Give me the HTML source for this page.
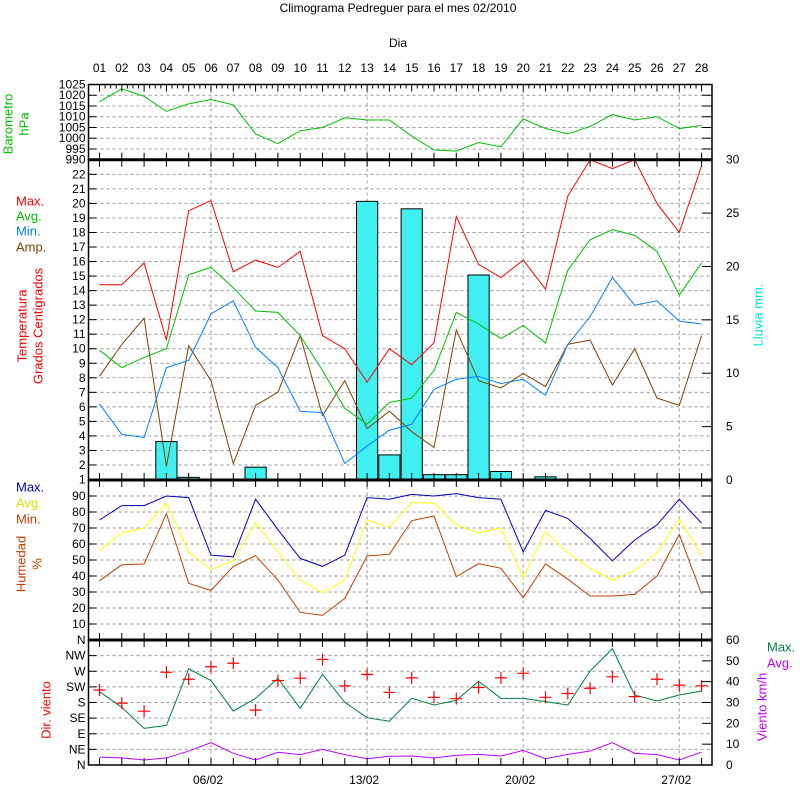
<!DOCTYPE html>
<html><head><meta charset="utf-8"><style>
html,body{margin:0;padding:0;background:#fff;}
svg{display:block;font-family:"Liberation Sans",sans-serif;font-size:12px;}
</style></head><body>
<svg id="c" width="800" height="800" viewBox="0 0 800 800"></svg>
<script>
const days=['01','02','03','04','05','06','07','08','09','10','11','12','13','14','15','16','17','18','19','20','21','22','23','24','25','26','27','28'];
const baro=[1017,1023,1019.5,1012.5,1016,1018,1015.5,1002,997.5,1003.5,1005,1009.5,1008.5,1008.5,1001,994.5,994,998,996,1009,1004.5,1002,1005.5,1011,1008.5,1010,1004.5,1006];
const tMax=[14.4,14.4,15.9,10.6,19.5,20.2,15.3,16.1,15.6,16.7,10.9,10,7.7,10,8.9,10.4,19.1,15.8,14.9,16.1,14.1,20.5,23,22.4,23,20,18,22.6];
const tAvg=[9.9,8.7,9.4,10,15.1,15.6,14.2,12.6,12.5,10.9,8.5,5.9,4.8,6.3,6.6,8.5,12.5,11.7,10.7,11.6,10.4,15.4,17.5,18.2,17.8,16.7,13.7,15.9];
const tMin=[6.2,4.1,3.9,8.7,9.2,12.4,13.3,10.1,8.7,5.7,5.6,2.1,3.3,4.4,4.8,7.2,7.9,8.1,7.6,7.9,6.8,10.3,12.2,14.9,13,13.3,11.9,11.7];
const tAmp=[8.1,10.3,12.1,1.9,10.2,7.8,2.1,6.1,7,10.9,5.4,7.8,4.5,5.7,4.3,3.2,11.3,7.8,7.3,8.3,7.4,10.3,10.6,7.5,10,6.6,6.1,10.9];
const rain=[0,0,0,3.6,0.25,0,0,1.2,0,0,0,0,26.1,2.35,25.4,0.5,0.5,19.2,0.8,0,0.3,0,0,0,0,0,0,0];
const hMax=[75,84,84,90,89,53,52,88,69,51,46,53,89,88,91,90,91.5,89,88,55,81,76,63.5,49.5,62.5,72,88,73];
const hAvg=[56,67,70,85.5,55,44,49.5,73.5,55,37.5,29.5,37.5,75,70.5,86,85.5,72,67,70,39,67.7,54.6,44.8,37.5,43.3,54.6,75.6,52.7];
const hMin=[37,47,47.5,79,35.4,31,46,52.7,37.5,17.3,15.4,26,52.5,53.6,74.6,77.5,39.6,47.7,44.8,26.5,47.5,38,27.5,27.5,28.5,40,66,28.7];
const wDir=[216,178,155,267,247,283,293,158,243,250,304,228,261,209,251,195,191,223,251,264,195,206,221,254,197,247,230,228];
const wMax=[35.2,27.7,17.6,19,46.2,40.5,25.9,32,41.6,27.2,43.5,30.1,22.7,21,32,28.8,31,40.2,32,32,30.4,28.8,45.1,55.8,33.6,30.7,33.6,35.5];
const wAvg=[3.8,3.4,2.4,3.4,6.7,10.7,5.6,2.4,6.1,5,7.5,5,3,4.2,4.3,3.4,4.6,5.1,4.3,7,3,5.1,6.7,10.7,5.6,5,2.4,6.2];
const baroTicks=[990,995,1000,1005,1010,1015,1020,1025];
const tempTicks=[1,2,3,4,5,6,7,8,9,10,11,12,13,14,15,16,17,18,19,20,21,22];
const rainTicks=[0,5,10,15,20,25,30];
const humTicks=['N','10','20','30','40','50','60','70','80','90'];
const dirTicks=['N','NE','E','SE','S','SW','W','NW'];
const windTicks=[0,10,20,30,40,50,60];
const dateLabels=['06/02','13/02','20/02','27/02'];
const dateIdx=[5,12,19,26];

const svg=document.getElementById('c');
const NS='http://www.w3.org/2000/svg';
const L=88.5,R=712,D0=99.5,DS=22.3;
const P={b:[84.5,159.7],t:[159.7,480],h:[480,640],w:[640,765]};
const X=i=>D0+i*DS;
const yB=v=>159.7-(v-990)*(75.2/35);
const yT=v=>479.5-(v-1)*14.53;
const yR=v=>480-v*(320.3/30);
const yH=v=>640-v*1.6;
const yD=v=>765-v*125/360;
const yW=v=>765-v*125/60;
function el(t,a,p){const e=document.createElementNS(NS,t);for(const k in a)e.setAttribute(k,a[k]);(p||svg).appendChild(e);return e;}
function txt(s,x,y,o){const e=el('text',Object.assign({x:x,y:y,'dominant-baseline':'central'},o||{}));e.textContent=s;return e;}
function hgrid(y){const g=el('line',{x1:L,x2:R,y1:y,y2:y,stroke:'#999','stroke-dasharray':'3,3','stroke-width':1});}

// title
let t=txt('Climograma Pedreguer para el mes 02/2010',398,8,{'text-anchor':'middle'});

t=txt('Dia',398,43,{'text-anchor':'middle'});

days.forEach((d,i)=>{const e=txt(d,X(i),68,{'text-anchor':'middle'});
});

// vertical grid
dateIdx.forEach(i=>{const g=el('line',{x1:X(i),x2:X(i),y1:P.b[0],y2:P.w[1],stroke:'#999','stroke-dasharray':'3,3'});
});

// baro axis
baroTicks.forEach(v=>{const y=yB(v);if(v>990&&v<1025)hgrid(y);el('line',{x1:L,x2:L+8,y1:y,y2:y,stroke:'#000'});el('line',{x1:R-10,x2:R,y1:y,y2:y,stroke:'#000'});
const e=txt(String(v),L-3,y,{'text-anchor':'end'});});
// temp axis
tempTicks.forEach(v=>{const y=yT(v);hgrid(y);el('line',{x1:L,x2:L+8,y1:y,y2:y,stroke:'#000'});
const e=txt(String(v),L-3,y,{'text-anchor':'end'});});
rainTicks.forEach(v=>{const y=yR(v);el('line',{x1:R-10,x2:R,y1:y,y2:y,stroke:'#000'});
const e=txt(String(v),726,y);});
// humidity
humTicks.forEach((s,i)=>{const y=yH(i*10);if(i>0)hgrid(y);el('line',{x1:L,x2:L+8,y1:y,y2:y,stroke:'#000'});el('line',{x1:R-10,x2:R,y1:y,y2:y,stroke:'#000'});
const e=txt(s,L-3,y,{'text-anchor':'end'});});
// wind
dirTicks.forEach((s,i)=>{const y=yD(i*45);if(i>0)hgrid(y);el('line',{x1:L,x2:L+8,y1:y,y2:y,stroke:'#000'});
const e=txt(s,L-3,y,{'text-anchor':'end'});});
windTicks.forEach(v=>{const y=yW(v);el('line',{x1:R-10,x2:R,y1:y,y2:y,stroke:'#000'});
const e=txt(String(v),726,y);});

// rain bars
rain.forEach((v,i)=>{if(v<=0)return;const y=yR(v);const b=el('rect',{x:X(i)-10.6,y:y,width:21.2,height:480-y,fill:'#40f0f0',stroke:'#000','stroke-width':1});
});

function line(arr,fy,col,name){const pts=arr.map((v,i)=>X(i)+','+fy(v)).join(' ');const p=el('polyline',{points:pts,fill:'none',stroke:col,'stroke-width':1});
}
line(baro,yB,'#00c000','barometer-line');
line(tAmp,yT,'#804000','temp-amp-line');
line(tMin,yT,'#0080ff','temp-min-line');
line(tAvg,yT,'#00c000','temp-avg-line');
line(tMax,yT,'#ff0000','temp-max-line');
line(hMin,yH,'#c04000','humidity-min-line');
line(hAvg,yH,'#ffff00','humidity-avg-line');
line(hMax,yH,'#0000c0','humidity-max-line');
line(wMax,yW,'#008040','wind-max-line');
line(wAvg,yW,'#c000ff','wind-avg-line');
wDir.forEach((v,i)=>{const x=X(i),y=yD(v);const g=el('path',{d:`M${x-6},${y}H${x+6}M${x},${y-6}V${y+6}`,stroke:'#ff0000','stroke-width':1.2,fill:'none'});
});

// frames
[P.b,P.t,P.h,P.w].forEach(p=>{el('rect',{x:L,y:p[0],width:R-L,height:p[1]-p[0],fill:'none',stroke:'#000','stroke-width':1.5});});
[P.t[0],P.h[0],P.w[0]].forEach(y=>el('line',{x1:L,x2:R,y1:y,y2:y,stroke:'#000','stroke-width':3}));
// day ticks
days.forEach((d,i)=>{const x=X(i);
el('line',{x1:x,x2:x,y1:P.b[0],y2:P.b[0]+7,stroke:'#000'});
[P.t[0],P.h[0],P.w[0]].forEach(y=>el('line',{x1:x,x2:x,y1:y-7,y2:y+7,stroke:'#000'}));
el('line',{x1:x,x2:x,y1:P.w[1]-7,y2:P.w[1],stroke:'#000'});
if(i<27)for(let k=1;k<4;k++){const xm=x+k*DS/4;el('line',{x1:xm,x2:xm,y1:P.b[0],y2:P.b[0]+4,stroke:'#000'});}
});
dateIdx.forEach((i,k)=>{const e=txt(dateLabels[k],X(i)-3,780,{'text-anchor':'middle'});});

// side titles
function vt(s,x,y,col,name){const e=txt(s,x,y,{'text-anchor':'middle',fill:col,transform:`rotate(-90 ${x} ${y})`,'font-size':'13px'});}
vt('Barometro',8,124,'#00c000','barometer-axis-title');
vt('hPa',24,124,'#00c000','barometer-unit');
vt('Temperatura',22,326,'#ff0000','temperature-axis-title');
vt('Grados Centigrados',38,326,'#ff0000','temperature-unit');
vt('Lluvia mm.',758,315,'#00e0e0','rain-axis-title');
vt('Humedad',21,564,'#c04000','humidity-axis-title');
vt('%',37,564,'#c04000','humidity-unit');
vt('Dir. viento',46,710,'#ff0000','direction-axis-title');
vt('Viento km/h',762,707,'#c000ff','wind-axis-title');
function lg(s,x,y,col,name){const e=txt(s,x,y,{fill:col,'font-size':'13px'});}
lg('Max.',16,201,'#ff0000','legend-temp-max');
lg('Avg.',16,216,'#00c000','legend-temp-avg');
lg('Min.',16,231,'#0080ff','legend-temp-min');
lg('Amp.',16,247,'#804000','legend-temp-amp');
lg('Max.',16,487,'#0000c0','legend-humidity-max');
lg('Avg.',16,503,'#e0e000','legend-humidity-avg');
lg('Min.',16,519,'#c04000','legend-humidity-min');
lg('Max.',767,647,'#008040','legend-wind-max');
lg('Avg.',767,663,'#c000ff','legend-wind-avg');
</script>
</body></html>
